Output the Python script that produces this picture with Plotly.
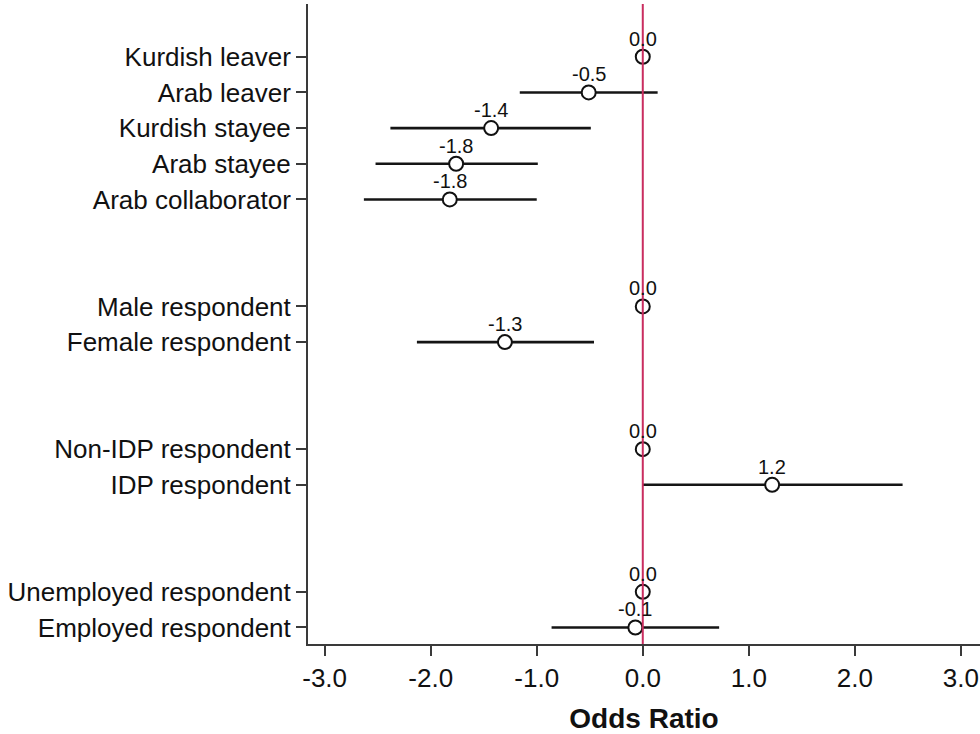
import plotly.graph_objects as go

# Coefficient groups (rows are drawn top to bottom, with a gap between groups)
groups = [
    ["Kurdish leaver", "Arab leaver", "Kurdish stayee", "Arab stayee", "Arab collaborator"],
    ["Male respondent", "Female respondent"],
    ["Non-IDP respondent", "IDP respondent"],
    ["Unemployed respondent", "Employed respondent"],
]

# Point estimates and 95% confidence bounds (None = reference category)
estimates = [0.0, -0.51, -1.43, -1.76, -1.82, 0.0, -1.30, 0.0, 1.22, 0.0, -0.07]
ci_low = [None, -1.16, -2.38, -2.52, -2.63, None, -2.13, None, 0.0, None, -0.86]
ci_high = [None, 0.14, -0.49, -0.99, -1.00, None, -0.46, None, 2.45, None, 0.72]

x_ticks = [-3, -2, -1, 0, 1, 2, 3]

# Row positions: consecutive rows inside a group, two blank rows between groups
labels, rows = [], []
pos = 1
for g in groups:
    for name in g:
        labels.append(name)
        rows.append(pos)
        pos += 1
    pos += 2

FONT = "Liberation Sans, Arial, Helvetica, sans-serif"
INK = "#111111"
AXIS = "#3a3a3a"
REFLINE = "#c92d5f"

# Confidence-interval segments
seg_x, seg_y = [], []
for lo, hi, r in zip(ci_low, ci_high, rows):
    if lo is None:
        continue
    seg_x += [lo, hi, None]
    seg_y += [r, r, None]

fig = go.Figure()

fig.add_trace(go.Scatter(
    x=seg_x, y=seg_y, mode="lines",
    line=dict(color="#151515", width=2.6), hoverinfo="skip", showlegend=False,
))

fig.add_trace(go.Scatter(
    x=estimates, y=rows, mode="markers",
    marker=dict(symbol="circle", size=14, color="white",
                line=dict(color="#111111", width=2)),
    showlegend=False,
))

# Value labels above each estimate
for v, r in zip(estimates, rows):
    fig.add_annotation(x=v, y=r, text=f"{v:.1f}", showarrow=False,
                       xanchor="center", yanchor="middle", yshift=18,
                       font=dict(family=FONT, size=20, color=INK))

# Reference line at zero, drawn over the marks
fig.add_shape(type="line", xref="x", yref="paper", x0=0, x1=0, y0=0, y1=1,
              line=dict(color=REFLINE, width=2), layer="above")

fig.update_layout(
    width=980, height=734,
    margin=dict(l=308, r=0, t=4, b=90),
    paper_bgcolor="white", plot_bgcolor="white",
    font=dict(family=FONT, color=INK),
)

fig.update_xaxes(
    range=[-3.157, 3.18],
    tickvals=x_ticks,
    ticktext=[f"{t:.1f}" for t in x_ticks],
    ticks="outside", ticklen=10, tickwidth=1.5, tickcolor=AXIS,
    tickfont=dict(family=FONT, size=26, color=INK),
    showline=True, linecolor=AXIS, linewidth=2,
    showgrid=False, zeroline=False,
    title=dict(text="<b>Odds Ratio</b>", font=dict(family=FONT, size=28, color=INK),
               standoff=18),
)

fig.update_yaxes(
    range=[17.463, -0.479],
    tickvals=rows, ticktext=labels,
    ticks="outside", ticklen=10, tickwidth=1.5, tickcolor=AXIS,
    tickfont=dict(family=FONT, size=26, color=INK),
    showline=True, linecolor=AXIS, linewidth=2,
    showgrid=False, zeroline=False,
)

fig.write_html("out.html")
